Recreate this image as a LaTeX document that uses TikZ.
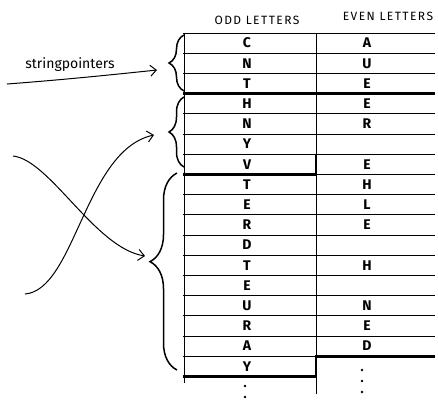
\documentclass[tikz,border=0pt]{standalone}
\usepackage{fontspec}
\setsansfont{Fira Sans}
\usetikzlibrary{arrows.meta,decorations.pathreplacing,calc}

\begin{document}
\begin{tikzpicture}[
    x=1pt,y=-1pt,
    rule/.style={line width=1pt},
    bound/.style={line width=2.8pt},
    lett/.style={font=\sffamily\bfseries\fontsize{14}{14}\selectfont,inner sep=0pt},
    hdr/.style={font=\sffamily\fontsize{12}{12}\selectfont\addfontfeatures{LetterSpace=12},
                inner sep=0pt},
    ptr/.style={-{Straight Barb[length=6pt,width=11pt]},line width=1pt},
    brc/.style={decorate,decoration={brace,amplitude=#1},line width=1.5pt},
    dot/.style={circle,fill,inner sep=0pt,minimum size=2.8pt},
  ]
    \useasboundingbox (0,0) rectangle (438,405);
    % headers
    \node[hdr](oddhd) at (257,20){ODD LETTERS};
    \node[hdr](evenhd) at (388,16){EVEN LETTERS};
    % rows of the table
    \foreach \k in {0,...,16}
      \draw[rule] (183,{33+20.2*\k}) -- (435,{33+20.2*\k});
    \draw[rule] (184,33) -- (184,383);
    \draw[rule] (316,33) -- (316,394);
    \foreach \o/\e [count=\k] in {C/A,N/U,T/E,H/E,N/R,Y/{},V/E,T/H,E/L,
        R/E,D/{},T/H,E/{},U/N,R/E,A/D,Y/{}}{
      \node[lett](odd\k) at (247,{33+20.2*(\k-0.5)}){\o};
      \node[lett](even\k) at (367,{33+20.2*(\k-0.5)}){\e};
    }
    % string boundaries
    \draw[bound] (183,93.6) -- (435,93.6);
    \draw[bound] (183,174.4) -- (316,174.4) -- (316,154.2);
    \draw[bound] (435,356.2) -- (316,356.2) -- (316,376.4) -- (183,376.4);
    % continuation
    \node[dot](ld1) at (245,386){};
    \node[dot](ld2) at (245,397){};
    \node[dot](rd1) at (362,370){};
    \node[dot](rd2) at (362,381){};
    \node[dot](rd3) at (362,392){};
    % braces
    \draw[brc=15pt] (184,91) -- (184,35);
    \draw[brc=15pt] (184,167) -- (184,97);
    \draw[brc=27pt,decoration={aspect=0.55}] (177,370) -- (177,173);
    % pointers
    \coordinate (p1s) at (7,84);
    \coordinate (p1e) at (157,70);
    \coordinate (p2s) at (25,294);
    \coordinate (p2e) at (154,135);
    \coordinate (p3s) at (13,156);
    \coordinate (p3e) at (145,256);
    \node[font=\sffamily\fontsize{14}{14}\selectfont](splabel) at (70,65){stringpointers};
    \draw[ptr] (p1s) .. controls (60,80) and (110,75) .. (p1e);
    \draw[ptr] (p2s) .. controls (75,290) and (85,150) .. (p2e);
    \draw[ptr] (p3s) .. controls (50,160) and (95,248) .. (p3e);
\end{tikzpicture}
\end{document}
